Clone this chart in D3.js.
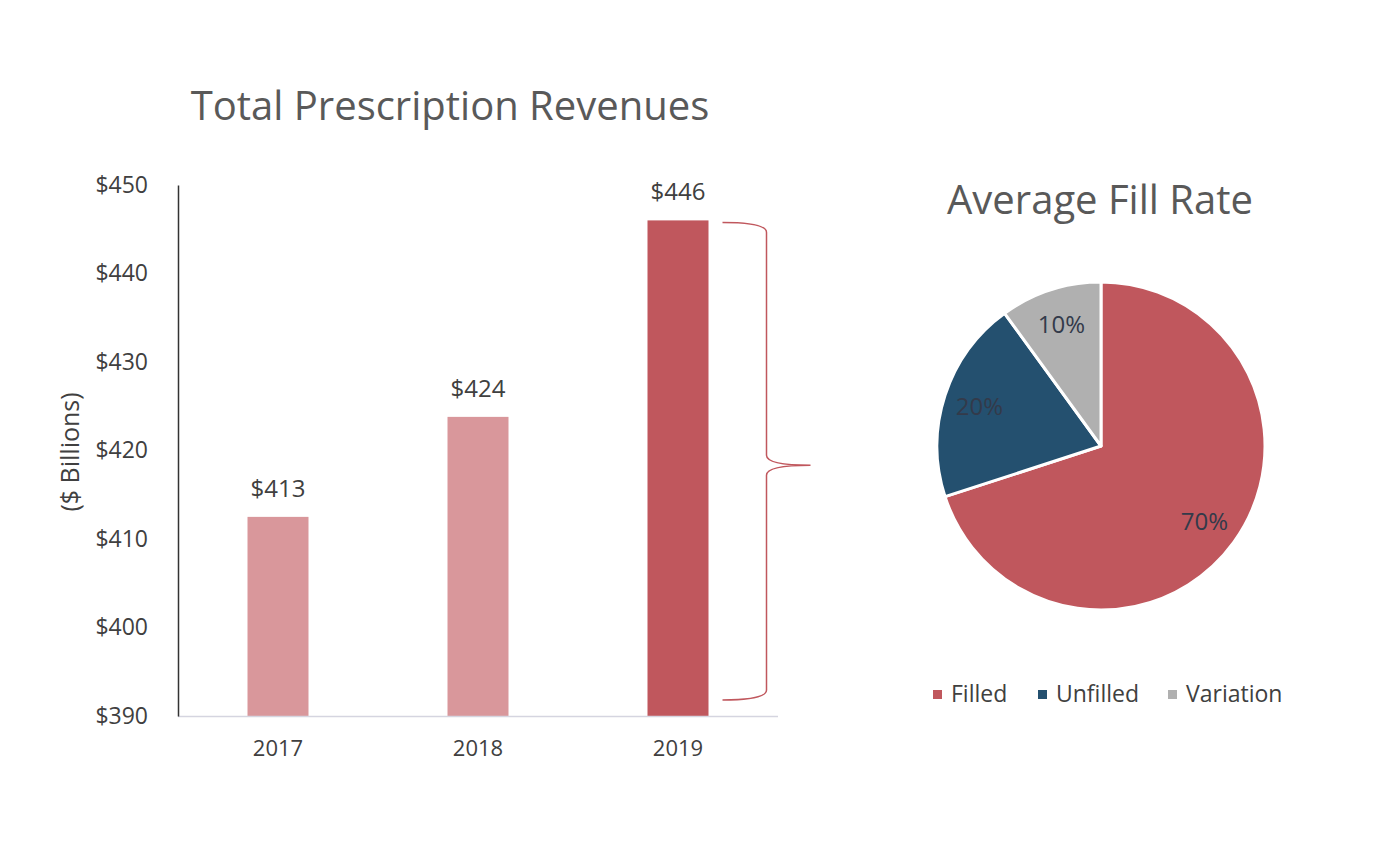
<!DOCTYPE html>
<html><head><meta charset="utf-8">
<script src="https://cdn.jsdelivr.net/npm/d3@7"></script>
<style>body{margin:0;background:#fff}svg{display:block}text{font-family:"Open Sans",sans-serif}</style>
</head><body><div id="c"></div>
<script>
const years = ["2017","2018","2019"];
const revenues = [412.5, 423.8, 446];
const revenueLabels = ["$413","$424","$446"];
const yTicks = [390,400,410,420,430,440,450];
const pieCats = ["Filled","Unfilled","Variation"];
const pieVals = [70,20,10];
const pieLabels = ["70%","20%","10%"];

const W=1396,H=862;
const svg=d3.select("#c").append("svg").attr("width",W).attr("height",H);
const txt="#404040";

// Bar chart
const x=d3.scaleBand().domain(years).range([178,778]).paddingInner(0.695).paddingOuter(0.3475);
const y=d3.scaleLinear().domain([390,450]).range([716,185]);

svg.append("text").attr("x",450).attr("y",120).attr("text-anchor","middle")
  .attr("font-size",40).attr("fill","#595959").text("Total Prescription Revenues");

svg.append("g").selectAll("rect").data(years).join("rect")
  .attr("x",d=>x(d)).attr("width",x.bandwidth())
  .attr("y",(d,i)=>y(revenues[i])).attr("height",(d,i)=>y(390)-y(revenues[i]))
  .attr("fill",(d,i)=>i===2?"#c0575d":"#d9979b");

svg.append("g").selectAll("text").data(years).join("text")
  .attr("x",d=>x(d)+x.bandwidth()/2).attr("y",(d,i)=>y(revenues[i])-20)
  .attr("text-anchor","middle").attr("font-size",24).attr("fill",txt)
  .text((d,i)=>revenueLabels[i]);

// x axis
const gx=svg.append("g").attr("transform","translate(0,716)")
  .call(d3.axisBottom(x).tickSize(0).tickPadding(24));
gx.select(".domain").attr("stroke","#d5d5e0").attr("stroke-width",1.5).attr("d","M178,0.5H778");
gx.selectAll("text").attr("font-size",22).attr("fill",txt).attr("font-family","Open Sans");

// y axis
const gy=svg.append("g").attr("transform","translate(178,0)")
  .call(d3.axisLeft(y).tickValues(yTicks).tickSize(0).tickPadding(30).tickFormat(d=>"$"+d));
gy.select(".domain").attr("stroke","#333").attr("stroke-width",1.5);
gy.selectAll("text").attr("font-size",23).attr("fill",txt).attr("font-family","Open Sans");

svg.append("text").attr("transform","translate(70,452) rotate(-90)").attr("text-anchor","middle")
  .attr("dy","0.35em").attr("font-size",25).attr("fill",txt).text("($ Billions)");

// Bracket
const bx0=x("2019")+x.bandwidth()+14, bx1=bx0+44, bx2=bx1+44;
const by0=y(revenues[2])+2, by1=y(390)-16, bym=(by0+by1)/2+4;
const p=d3.path();
p.moveTo(bx0,by0);
p.quadraticCurveTo(bx1,by0,bx1,by0+10);
p.lineTo(bx1,bym-10);
p.quadraticCurveTo(bx1,bym,bx2,bym);
p.quadraticCurveTo(bx1,bym,bx1,bym+10);
p.lineTo(bx1,by1-10);
p.quadraticCurveTo(bx1,by1,bx0,by1);
svg.append("path").attr("d",p.toString()).attr("fill","none").attr("stroke","#c0575d").attr("stroke-width",1.5);

// Pie
const cx=1101,cy=446,R=164;
const color=d3.scaleOrdinal().domain(pieCats).range(["#c0575d","#24506f","#b0b0b0"]);
svg.append("text").attr("x",1100).attr("y",214).attr("text-anchor","middle")
  .attr("font-size",40).attr("fill","#595959").text("Average Fill Rate");
const pie=d3.pie().sort(null).value(d=>d)(pieVals);
const arc=d3.arc().innerRadius(0).outerRadius(R);
const larc=d3.arc().innerRadius(R*0.56).outerRadius(R);
const gp=svg.append("g").attr("transform",`translate(${cx},${cy})`);
gp.selectAll("path").data(pie).join("path").attr("d",arc)
  .attr("fill",(d,i)=>color(pieCats[i])).attr("stroke","#fff").attr("stroke-width",3).attr("stroke-linejoin","round");
gp.selectAll("text").data(pie).join("text")
  .attr("transform",d=>`translate(${larc.centroid(d)})`).attr("text-anchor","middle").attr("dy","0.35em")
  .attr("font-size",24).attr("fill","#333a4a").text((d,i)=>pieLabels[i]);

// Legend
const legX=[933,1038,1168];
const gl=svg.append("g");
pieCats.forEach((c,i)=>{
  gl.append("rect").attr("x",legX[i]).attr("y",690).attr("width",9).attr("height",9).attr("fill",color(c));
  gl.append("text").attr("x",legX[i]+18).attr("y",702).attr("font-size",23).attr("fill",txt).text(c);
});
</script></body></html>
